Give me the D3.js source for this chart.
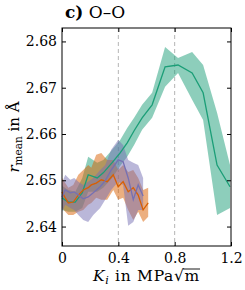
<!DOCTYPE html>
<html>
<head>
<meta charset="utf-8">
<script src="https://cdn.jsdelivr.net/npm/d3@7"></script>
<style>
  body { margin: 0; background: #fff; }
  svg text { font-family: "DejaVu Serif", "Liberation Serif", serif; fill: #000; }
</style>
</head>
<body>
<svg id="chart"></svg>
<script>
let width = 245;
let height = 290;
let margin = { top: 28, right: 14, bottom: 44, left: 62 };

let xTicks = [0, 0.4, 0.8, 1.2];
let xTickLabels = ["0", "0.4", "0.8", "1.2"];
let yTicks = [2.64, 2.65, 2.66, 2.67, 2.68];
let yTickLabels = ["2.64", "2.65", "2.66", "2.67", "2.68"];
let guideLines = [0.4, 0.8];

// green series
let greenK = [0, 0.045, 0.094, 0.144, 0.186, 0.25, 0.293, 0.356, 0.413, 0.463, 0.512, 0.569, 0.64, 0.732, 0.824, 0.924, 1.002, 1.101, 1.193];
let greenMean = [2.6462, 2.6453, 2.6453, 2.6473, 2.6512, 2.6505, 2.6516, 2.6538, 2.6559, 2.6581, 2.6607, 2.6635, 2.6663, 2.6745, 2.6749, 2.6732, 2.6689, 2.6533, 2.6486];
let greenHi = [2.6488, 2.6479, 2.6475, 2.6505, 2.6551, 2.6538, 2.6544, 2.6566, 2.6587, 2.6613, 2.6635, 2.6663, 2.6689, 2.6788, 2.6764, 2.6777, 2.6749, 2.6646, 2.6533];
let greenLo = [2.6436, 2.6432, 2.6432, 2.644, 2.6475, 2.6475, 2.6484, 2.6505, 2.6531, 2.6551, 2.6576, 2.6609, 2.6635, 2.6702, 2.6732, 2.6674, 2.663, 2.6425, 2.644];

// orange series
let orangeK = [0, 0.023, 0.045, 0.08, 0.116, 0.151, 0.186, 0.208, 0.243, 0.279, 0.321, 0.364, 0.399, 0.434, 0.47, 0.506, 0.541, 0.576, 0.612];
let orangeMean = [2.6475, 2.6462, 2.6451, 2.6453, 2.6468, 2.6479, 2.6484, 2.649, 2.6494, 2.6501, 2.6497, 2.6512, 2.6486, 2.6497, 2.6475, 2.6484, 2.6468, 2.6436, 2.6451];
let orangeHi = [2.6505, 2.6494, 2.6484, 2.649, 2.6512, 2.6522, 2.6533, 2.6527, 2.6555, 2.6559, 2.6544, 2.6544, 2.6522, 2.6533, 2.6518, 2.6522, 2.6505, 2.6479, 2.6484];
let orangeLo = [2.644, 2.6432, 2.6425, 2.6425, 2.6432, 2.6436, 2.6447, 2.6451, 2.6462, 2.6458, 2.6458, 2.6479, 2.6458, 2.6462, 2.6436, 2.6414, 2.6432, 2.641, 2.6421];

// purple series
let purpleK = [0, 0.023, 0.059, 0.087, 0.116, 0.151, 0.186, 0.222, 0.271, 0.307, 0.349, 0.399, 0.434, 0.47, 0.506, 0.541, 0.576];
let purpleMean = [2.6464, 2.6479, 2.6473, 2.6475, 2.6468, 2.646, 2.6464, 2.6473, 2.6486, 2.6499, 2.6522, 2.6544, 2.654, 2.6505, 2.6458, 2.649, 2.6466];
let purpleHi = [2.6494, 2.6512, 2.6501, 2.6505, 2.6497, 2.649, 2.6497, 2.6505, 2.6522, 2.6533, 2.6566, 2.6587, 2.6576, 2.6544, 2.6538, 2.6533, 2.6505];
let purpleLo = [2.6432, 2.6447, 2.644, 2.6436, 2.6425, 2.6414, 2.641, 2.6425, 2.644, 2.6458, 2.6479, 2.6497, 2.649, 2.6402, 2.641, 2.6436, 2.6436];

let series = [
  { color: "#1b9e77", k: greenK, mean: greenMean, hi: greenHi, lo: greenLo },
  { color: "#d95f02", k: orangeK, mean: orangeMean, hi: orangeHi, lo: orangeLo },
  { color: "#7570b3", k: purpleK, mean: purpleMean, hi: purpleHi, lo: purpleLo },
];

let svg = d3.select("#chart").attr("width", width).attr("height", height);

let x0 = margin.left;
let x1 = width - margin.right;
let y0 = height - margin.bottom;
let y1 = margin.top;

let xScale = d3.scaleLinear().domain([0, 1.2]).range([x0, x1]);
let yScale = d3.scaleLinear().domain([2.6358, 2.6829]).range([y0, y1]);

// dashed guides
svg.selectAll(".guide")
  .data(guideLines)
  .enter()
  .append("line")
  .attr("class", "guide")
  .attr("x1", (d) => xScale(d))
  .attr("x2", (d) => xScale(d))
  .attr("y1", y1)
  .attr("y2", y0)
  .attr("stroke", "#b5b5b5")
  .attr("stroke-width", 1)
  .attr("stroke-dasharray", "4,3");

let plot = svg.append("g");

series.forEach((s) => {
  let rows = s.k.map((k, i) => ({ k: k, lo: s.lo[i], hi: s.hi[i] }));
  let area = d3.area()
    .x((d) => xScale(d.k))
    .y0((d) => yScale(d.lo))
    .y1((d) => yScale(d.hi));
  plot.append("path")
    .attr("d", area(rows))
    .attr("fill", s.color)
    .attr("fill-opacity", 0.5)
    .attr("stroke", "none");
});

series.forEach((s) => {
  let pts = s.k.map((k, i) => [xScale(k), yScale(s.mean[i])]);
  plot.append("path")
    .attr("d", d3.line()(pts))
    .attr("fill", "none")
    .attr("stroke", s.color)
    .attr("stroke-width", 1.3);
});

// axes with inward ticks on all four sides
let fmtX = (d, i) => xTickLabels[i];
let fmtY = (d, i) => yTickLabels[i];

let axBottom = svg.append("g")
  .attr("transform", "translate(0," + y0 + ")")
  .call(d3.axisBottom(xScale).tickValues(xTicks).tickFormat(fmtX).tickSizeInner(-4).tickSizeOuter(0).tickPadding(7));
let axTop = svg.append("g")
  .attr("transform", "translate(0," + y1 + ")")
  .call(d3.axisTop(xScale).tickValues(xTicks).tickFormat("").tickSizeInner(-4).tickSizeOuter(0));
let axLeft = svg.append("g")
  .attr("transform", "translate(" + x0 + ",0)")
  .call(d3.axisLeft(yScale).tickValues(yTicks).tickFormat(fmtY).tickSizeInner(-4).tickSizeOuter(0).tickPadding(5));
let axRight = svg.append("g")
  .attr("transform", "translate(" + x1 + ",0)")
  .call(d3.axisRight(yScale).tickValues(yTicks).tickFormat("").tickSizeInner(-4).tickSizeOuter(0));

[axBottom, axTop, axLeft, axRight].forEach((g) => {
  g.attr("font-family", null).attr("font-size", null);
  g.select(".domain").remove();
  g.selectAll(".tick line").attr("stroke", "#000").attr("stroke-width", 1);
  g.selectAll("text").style("font-size", "14px").style("font-family", "'DejaVu Serif'");
});

svg.append("rect")
  .attr("x", x0)
  .attr("y", y1)
  .attr("width", x1 - x0)
  .attr("height", y0 - y1)
  .attr("fill", "none")
  .attr("stroke", "#000")
  .attr("stroke-width", 1);

// title
let title = svg.append("text").attr("x", 65).attr("y", 18).style("font-size", "17px");
title.append("tspan").attr("font-weight", "bold").text("c)");
title.append("tspan").text(" O–O");

// x label
let xl = svg.append("text")
  .attr("x", (x0 + x1) / 2)
  .attr("y", 281)
  .attr("text-anchor", "middle")
  .style("font-size", "15.5px")
  .style("letter-spacing", "0.7px");
xl.append("tspan").attr("font-style", "italic").text("K");
xl.append("tspan").attr("font-style", "italic").style("font-size", "11px").attr("dy", 3).text("i");
xl.append("tspan").attr("dy", -3).text(" in MPa√");
xl.append("tspan").text("m");

// overline of the square root
let rootBox = xl.node().getExtentOfChar(9);
let mBox = xl.node().getExtentOfChar(10);
let barY = 281 - 12;
svg.append("line")
  .attr("x1", rootBox.x + rootBox.width - 1.5)
  .attr("x2", mBox.x + mBox.width)
  .attr("y1", barY)
  .attr("y2", barY)
  .attr("stroke", "#000")
  .attr("stroke-width", 0.9);

// y label
let yl = svg.append("text")
  .attr("transform", "translate(19," + (y0 + y1) / 2 + ") rotate(-90)")
  .attr("text-anchor", "middle")
  .style("font-size", "15px");
yl.append("tspan").attr("font-style", "italic").text("r");
yl.append("tspan").style("font-size", "10.5px").attr("dy", 3).text("mean");
yl.append("tspan").attr("dy", -3).text(" in Å");
</script>
</body>
</html>
